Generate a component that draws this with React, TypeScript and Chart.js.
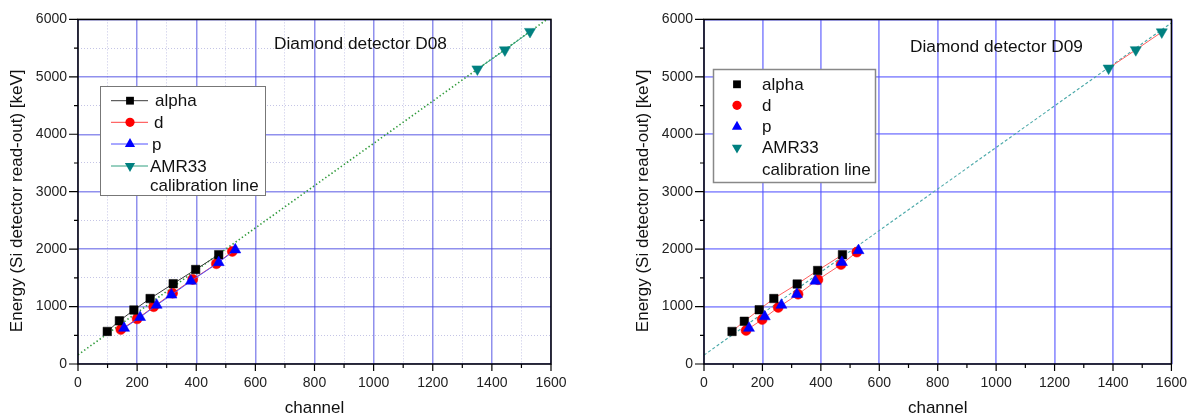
import React, { useEffect, useRef } from "react";
import { Chart, registerables } from "chart.js";

Chart.register(...registerables);

const FONT = "'Liberation Sans', Arial, Helvetica, sans-serif";

// ---- axes ----
const xMin = 0;
const xMax = 1600;
const xMajorStep = 200;
const xMinorStep = 100;
const yMin = 0;
const yMax = 6000;
const yMajorStep = 1000;
const yMinorStep = 500;
const xTitle = "channel";
const yTitle = "Energy (Si detector read-out) [keV]";
const legendLabels = ["alpha", "d", "p", "AMR33", "calibration line"];

// ---- Diamond detector D08 ----
const d08Title = "Diamond detector D08";
const d08AlphaCh = [99, 140, 189, 244, 322, 398, 476];
const d08AlphaE = [567, 751, 940, 1140, 1398, 1645, 1903];
const d08DCh = [145, 200, 256, 320, 388, 468, 522];
const d08DE = [600, 786, 997, 1233, 1473, 1745, 1960];
const d08PCh = [156, 210, 266, 316, 382, 476, 532];
const d08PE = [624, 813, 1026, 1203, 1444, 1768, 1989];
const d08AmrCh = [1351, 1444, 1529];
const d08AmrE = [5135, 5467, 5788];
const d08CalCh = [0, 1600];
const d08CalE = [160, 6050];

// ---- Diamond detector D09 ----
const d09Title = "Diamond detector D09";
const d09AlphaCh = [96, 138, 189, 239, 319, 389, 474];
const d09AlphaE = [567, 744, 945, 1140, 1392, 1628, 1903];
const d09DCh = [144, 199, 254, 322, 390, 469, 523];
const d09DE = [584, 774, 985, 1215, 1467, 1731, 1948];
const d09PCh = [154, 208, 265, 318, 381, 472, 529];
const d09PE = [624, 825, 1026, 1215, 1444, 1771, 1977];
const d09AmrCh = [1385, 1478, 1567];
const d09AmrE = [5150, 5470, 5780];
const d09CalCh = [0, 1600];
const d09CalE = [155, 5940];

const pts = (xs: number[], ys: number[]) => xs.map((x, i) => ({ x, y: ys[i] }));

function drawMarker(ctx: CanvasRenderingContext2D, style: string, x: number, y: number, r: number, color: string, rotation = 0) {
  ctx.save();
  ctx.fillStyle = color;
  ctx.beginPath();
  if (style === "rect") {
    const s = r * Math.SQRT1_2;
    ctx.rect(x - s, y - s, 2 * s, 2 * s);
  } else if (style === "circle") {
    ctx.arc(x, y, r, 0, Math.PI * 2);
  } else {
    const a0 = (rotation * Math.PI) / 180;
    for (let k = 0; k < 3; k++) {
      const a = a0 + (k * 2 * Math.PI) / 3;
      const px = x + Math.sin(a) * r;
      const py = y - Math.cos(a) * r;
      if (k === 0) ctx.moveTo(px, py);
      else ctx.lineTo(px, py);
    }
    ctx.closePath();
  }
  ctx.fill();
  ctx.restore();
}

const decorPlugin = {
  id: "decor",
  afterDraw(chart: any, _args: any, opts: any) {
    const { ctx, chartArea, scales } = chart;
    const { left, right, top, bottom } = chartArea;
    const xs = scales.x;
    const ys = scales.y;
    ctx.save();
    // frame
    ctx.strokeStyle = "#000";
    ctx.lineWidth = 1.5;
    ctx.strokeRect(left, top, right - left, bottom - top);
    // tick marks
    ctx.lineWidth = 1.2;
    ctx.beginPath();
    for (let v = xMin; v <= xMax; v += xMinorStep) {
      const px = xs.getPixelForValue(v);
      const len = v % xMajorStep === 0 ? 7 : 4;
      ctx.moveTo(px, bottom);
      ctx.lineTo(px, bottom + len);
    }
    for (let v = yMin; v <= yMax; v += yMinorStep) {
      const py = ys.getPixelForValue(v);
      const len = v % yMajorStep === 0 ? 9 : 4;
      ctx.moveTo(left, py);
      ctx.lineTo(left - len, py);
    }
    ctx.stroke();

    // y title
    ctx.fillStyle = "#111";
    ctx.font = `17px ${FONT}`;
    ctx.save();
    ctx.translate(opts.yTitleX, opts.yTitleY);
    ctx.rotate(-Math.PI / 2);
    ctx.textAlign = "center";
    ctx.textBaseline = "middle";
    ctx.fillText(yTitle, 0, 0);
    ctx.restore();

    // annotation
    ctx.textAlign = "left";
    ctx.textBaseline = "alphabetic";
    ctx.font = `17.3px ${FONT}`;
    ctx.fillText(opts.title, opts.titleX, opts.titleY);

    // legend
    const [bx1, by1, bx2, by2] = opts.legendBox;
    ctx.fillStyle = "#fff";
    ctx.fillRect(bx1, by1, bx2 - bx1, by2 - by1);
    ctx.strokeStyle = opts.legendBorder;
    ctx.lineWidth = opts.legendBorderWidth;
    ctx.strokeRect(bx1, by1, bx2 - bx1, by2 - by1);
    ctx.font = `17px ${FONT}`;
    ctx.textBaseline = "middle";
    legendLabels.forEach((label, i) => {
      const ry = opts.rows[i];
      const ds = chart.data.datasets[i];
      if (i < 4) {
        if (opts.lineSample) {
          ctx.strokeStyle = ds.borderColor;
          ctx.lineWidth = 1;
          ctx.beginPath();
          ctx.moveTo(opts.lineSample[0], ry);
          ctx.lineTo(opts.lineSample[1], ry);
          ctx.stroke();
        }
        drawMarker(ctx, ds.pointStyle, opts.markerX, ry, ds.pointRadius * 0.92, ds.pointBackgroundColor, ds.pointRotation || 0);
      }
      ctx.fillStyle = "#111";
      ctx.fillText(label, opts.textX[i], ry + 1);
    });
    ctx.restore();
  },
};

function makeConfig(p: any) {
  return {
    type: "scatter",
    data: {
      datasets: [
        {
          label: legendLabels[0],
          order: 2,
          data: pts(p.alphaCh, p.alphaE),
          showLine: true,
          borderColor: p.alphaLine,
          borderWidth: 1,
          pointStyle: "rect",
          pointRadius: 6,
          pointBackgroundColor: "#000000",
          pointBorderColor: "#000000",
          pointBorderWidth: 0.5,
        },
        {
          label: legendLabels[1],
          order: 3,
          data: pts(p.dCh, p.dE),
          showLine: true,
          borderColor: p.dLine,
          borderWidth: 1,
          pointStyle: "circle",
          pointRadius: 5,
          pointBackgroundColor: "#ff0000",
          pointBorderColor: "#ff0000",
          pointBorderWidth: 0.5,
        },
        {
          label: legendLabels[2],
          order: 1,
          data: pts(p.pCh, p.pE),
          showLine: p.pShowLine,
          borderColor: p.pLine,
          borderWidth: 1,
          pointStyle: "triangle",
          pointRadius: 6.4,
          pointBackgroundColor: "#0000ff",
          pointBorderColor: "#0000ff",
          pointBorderWidth: 0.5,
        },
        {
          label: legendLabels[3],
          order: 1,
          data: pts(p.amrCh, p.amrE),
          showLine: true,
          borderColor: p.amrLine,
          borderWidth: 1,
          pointStyle: "triangle",
          pointRotation: 180,
          pointRadius: 6.4,
          pointBackgroundColor: "#008080",
          pointBorderColor: "#008080",
          pointBorderWidth: 0.5,
        },
        {
          label: legendLabels[4],
          order: 5,
          data: pts(p.calCh, p.calE),
          showLine: true,
          borderColor: p.calColor,
          borderWidth: p.calWidth,
          borderDash: p.calDash,
          pointRadius: 0,
        },
      ],
    },
    options: {
      responsive: false,
      animation: false,
      devicePixelRatio: 1,
      layout: { padding: { top: 15, right: p.padRight, bottom: 0, left: 0 } },
      plugins: {
        legend: { display: false },
        tooltip: { enabled: false },
        decor: p.decor,
      },
      scales: {
        x: {
          type: "linear",
          min: xMin,
          max: xMax,
          afterFit: (s: any) => {
            s.height = 56;
          },
          border: {
            display: false,
            dash: (c: any) => (c.tick && c.tick.value % xMajorStep !== 0 ? [1, 2] : []),
          },
          grid: {
            drawTicks: false,
            color: (c: any) => (c.tick && c.tick.value % xMajorStep !== 0 ? p.minorGrid : p.majorGrid),
            lineWidth: (c: any) => (c.tick && c.tick.value % xMajorStep !== 0 ? 1 : p.majorWidth),
          },
          ticks: {
            stepSize: xMinorStep,
            autoSkip: false,
            maxRotation: 0,
            padding: 11,
            color: "#222",
            font: { family: FONT, size: 14 },
            callback: (v: any) => (Number(v) % xMajorStep === 0 ? String(v) : ""),
          },
          title: {
            display: true,
            text: xTitle,
            color: "#111",
            font: { family: FONT, size: 17 },
            padding: { top: 0, bottom: 1 },
          },
        },
        y: {
          type: "linear",
          min: yMin,
          max: yMax,
          afterFit: (s: any) => {
            s.width = 78;
          },
          border: {
            display: false,
            dash: (c: any) => (c.tick && c.tick.value % yMajorStep !== 0 ? [1, 2] : []),
          },
          grid: {
            drawTicks: false,
            color: (c: any) => (c.tick && c.tick.value % yMajorStep !== 0 ? p.minorGrid : p.majorGrid),
            lineWidth: (c: any) => (c.tick && c.tick.value % yMajorStep !== 0 ? 1 : p.majorWidth),
          },
          ticks: {
            stepSize: yMinorStep,
            autoSkip: false,
            padding: 11,
            color: "#222",
            font: { family: FONT, size: 14 },
            callback: (v: any) => (Number(v) % yMajorStep === 0 ? String(v) : ""),
          },
        },
      },
    },
    plugins: [decorPlugin],
  };
}

const leftParams = {
  alphaCh: d08AlphaCh, alphaE: d08AlphaE, dCh: d08DCh, dE: d08DE, pCh: d08PCh, pE: d08PE,
  amrCh: d08AmrCh, amrE: d08AmrE, calCh: d08CalCh, calE: d08CalE,
  alphaLine: "#3a3a3a", dLine: "#ff4040", pLine: "#5050ff", pShowLine: true, amrLine: "#30a080",
  calColor: "#2f9a3a", calWidth: 1.6, calDash: [1.4, 2.4],
  majorGrid: "rgba(70,70,225,0.6)", minorGrid: "rgba(150,150,210,0.55)", majorWidth: 1.5,
  padRight: 49,
  decor: {
    yTitleX: 17.2, yTitleY: 200.8,
    title: d08Title, titleX: 274, titleY: 49,
    legendBox: [100.5, 86.5, 265.5, 195.5], legendBorder: "#777", legendBorderWidth: 1,
    rows: [100.7, 122.3, 144, 166, 185.7],
    lineSample: [111, 148], markerX: 130,
    textX: [155, 154, 152, 150, 150],
  },
};

const rightParams = {
  alphaCh: d09AlphaCh, alphaE: d09AlphaE, dCh: d09DCh, dE: d09DE, pCh: d09PCh, pE: d09PE,
  amrCh: d09AmrCh, amrE: d09AmrE, calCh: d09CalCh, calE: d09CalE,
  alphaLine: "#ff6060", dLine: "#ff6060", pLine: "#ff6060", pShowLine: false, amrLine: "#ff6060",
  calColor: "#4aa8a8", calWidth: 1.1, calDash: [3, 2.2],
  majorGrid: "rgba(80,80,255,0.6)", minorGrid: "rgba(0,0,0,0)", majorWidth: 1.8,
  padRight: 23,
  decor: {
    yTitleX: 17.2, yTitleY: 200.8,
    title: d09Title, titleX: 284, titleY: 52,
    legendBox: [87.5, 69.5, 249.5, 182.5], legendBorder: "#888", legendBorderWidth: 1.5,
    rows: [84.3, 105.3, 126.7, 147.7, 169.3],
    lineSample: null, markerX: 111,
    textX: [136, 136, 136, 136, 136],
  },
};

function Panel({ params, left, width }: { params: any; left: number; width: number }) {
  const ref = useRef<HTMLCanvasElement>(null);
  useEffect(() => {
    const chart = new Chart(ref.current as HTMLCanvasElement, makeConfig(params) as any);
    return () => chart.destroy();
  }, [params]);
  return (
    <canvas
      ref={ref}
      width={width}
      height={420}
      style={{ position: "absolute", left, top: 0, width, height: 420, display: "block" }}
    />
  );
}

export default function App() {
  return (
    <div style={{ position: "absolute", left: 0, top: 0, width: 1198, height: 420, background: "#fff", overflow: "hidden" }}>
      <Panel params={leftParams} left={0} width={600} />
      <Panel params={rightParams} left={626} width={572} />
    </div>
  );
}
